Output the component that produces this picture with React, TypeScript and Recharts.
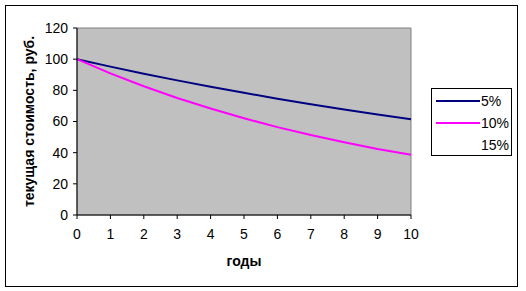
import React from "react";
import { LineChart, Line, XAxis, YAxis, ReferenceArea, Label } from "recharts";

const years = [0, 1, 2, 3, 4, 5, 6, 7, 8, 9, 10];
const pv5 = [100, 95.2, 90.7, 86.4, 82.3, 78.4, 74.6, 71.1, 67.7, 64.5, 61.4];
const pv10 = [100, 90.9, 82.6, 75.1, 68.3, 62.1, 56.4, 51.3, 46.7, 42.4, 38.6];
const pv15: (number | null)[] = [null, null, null, null, null, null, null, null, null, null, null];
const yTicks = [0, 20, 40, 60, 80, 100, 120];
const seriesNames = ["5%", "10%", "15%"];
const seriesColors = ["#000080", "#FF00FF", "none"];

const data = years.map((y, i) => ({ year: y, s5: pv5[i], s10: pv10[i], s15: pv15[i] }));

const FONT = "'Liberation Sans', Arial, sans-serif";

const LegendBox = () => (
  <div
    style={{
      position: "absolute",
      left: 431,
      top: 88,
      width: 81,
      height: 68,
      border: "1px solid #000",
      background: "#fff",
      boxSizing: "border-box",
      fontFamily: FONT,
      fontSize: 14,
    }}
  >
    {seriesNames.map((n, i) => (
      <div key={n} style={{ position: "absolute", left: 4, top: 3 + i * 22, height: 18, display: "flex", alignItems: "center" }}>
        <div style={{ width: 44, height: 2, background: seriesColors[i] === "none" ? "transparent" : seriesColors[i] }} />
        <span style={{ marginLeft: 1, color: "#000" }}>{n}</span>
      </div>
    ))}
  </div>
);

export default function App() {
  return (
    <div style={{ position: "absolute", left: 0, top: 0, width: 526, height: 291 }}>
      <div
        style={{
          position: "absolute",
          left: 5,
          top: 5,
          width: 513,
          height: 282,
          border: "1px solid #000",
          boxSizing: "border-box",
        }}
      />
      <LineChart
        width={526}
        height={291}
        data={data}
        margin={{ top: 28, right: 115, bottom: 20, left: 0 }}
        style={{ position: "absolute", left: 0, top: 0 }}
      >
        <ReferenceArea x1={0} x2={10} y1={0} y2={120} fill="#C0C0C0" fillOpacity={1} stroke="#808080" strokeWidth={1} ifOverflow="visible" />
        <XAxis
          dataKey="year"
          type="number"
          domain={[0, 10]}
          ticks={years}
          interval={0}
          height={56}
          stroke="#000"
          tickSize={4}
          tick={{ fill: "#000", fontSize: 14, fontFamily: FONT, dy: 8 }}
          tickLine={{ stroke: "#000" }}
        >
          <Label value="годы" position="insideBottom" offset={5} style={{ fontWeight: "bold", fontSize: 14, fontFamily: FONT, fill: "#000" }} />
        </XAxis>
        <YAxis
          domain={[0, 120]}
          ticks={yTicks}
          interval={0}
          width={77}
          stroke="#000"
          tickSize={4}
          tick={{ fill: "#000", fontSize: 14, fontFamily: FONT, dx: -3 }}
          tickLine={{ stroke: "#000" }}
        >
          <Label
            value="текущая стоимость, руб."
            angle={-90}
            position="insideLeft"
            offset={29}
            style={{ textAnchor: "middle", fontWeight: "bold", fontSize: 14, fontFamily: FONT, fill: "#000" }}
          />
        </YAxis>
        <Line dataKey="s5" name="5%" stroke="#000080" strokeWidth={2} dot={false} isAnimationActive={false} type="linear" />
        <Line dataKey="s10" name="10%" stroke="#FF00FF" strokeWidth={2} dot={false} isAnimationActive={false} type="linear" />
        <Line dataKey="s15" name="15%" stroke="none" strokeWidth={2} dot={false} isAnimationActive={false} type="linear" />
      </LineChart>
      <LegendBox />
    </div>
  );
}
